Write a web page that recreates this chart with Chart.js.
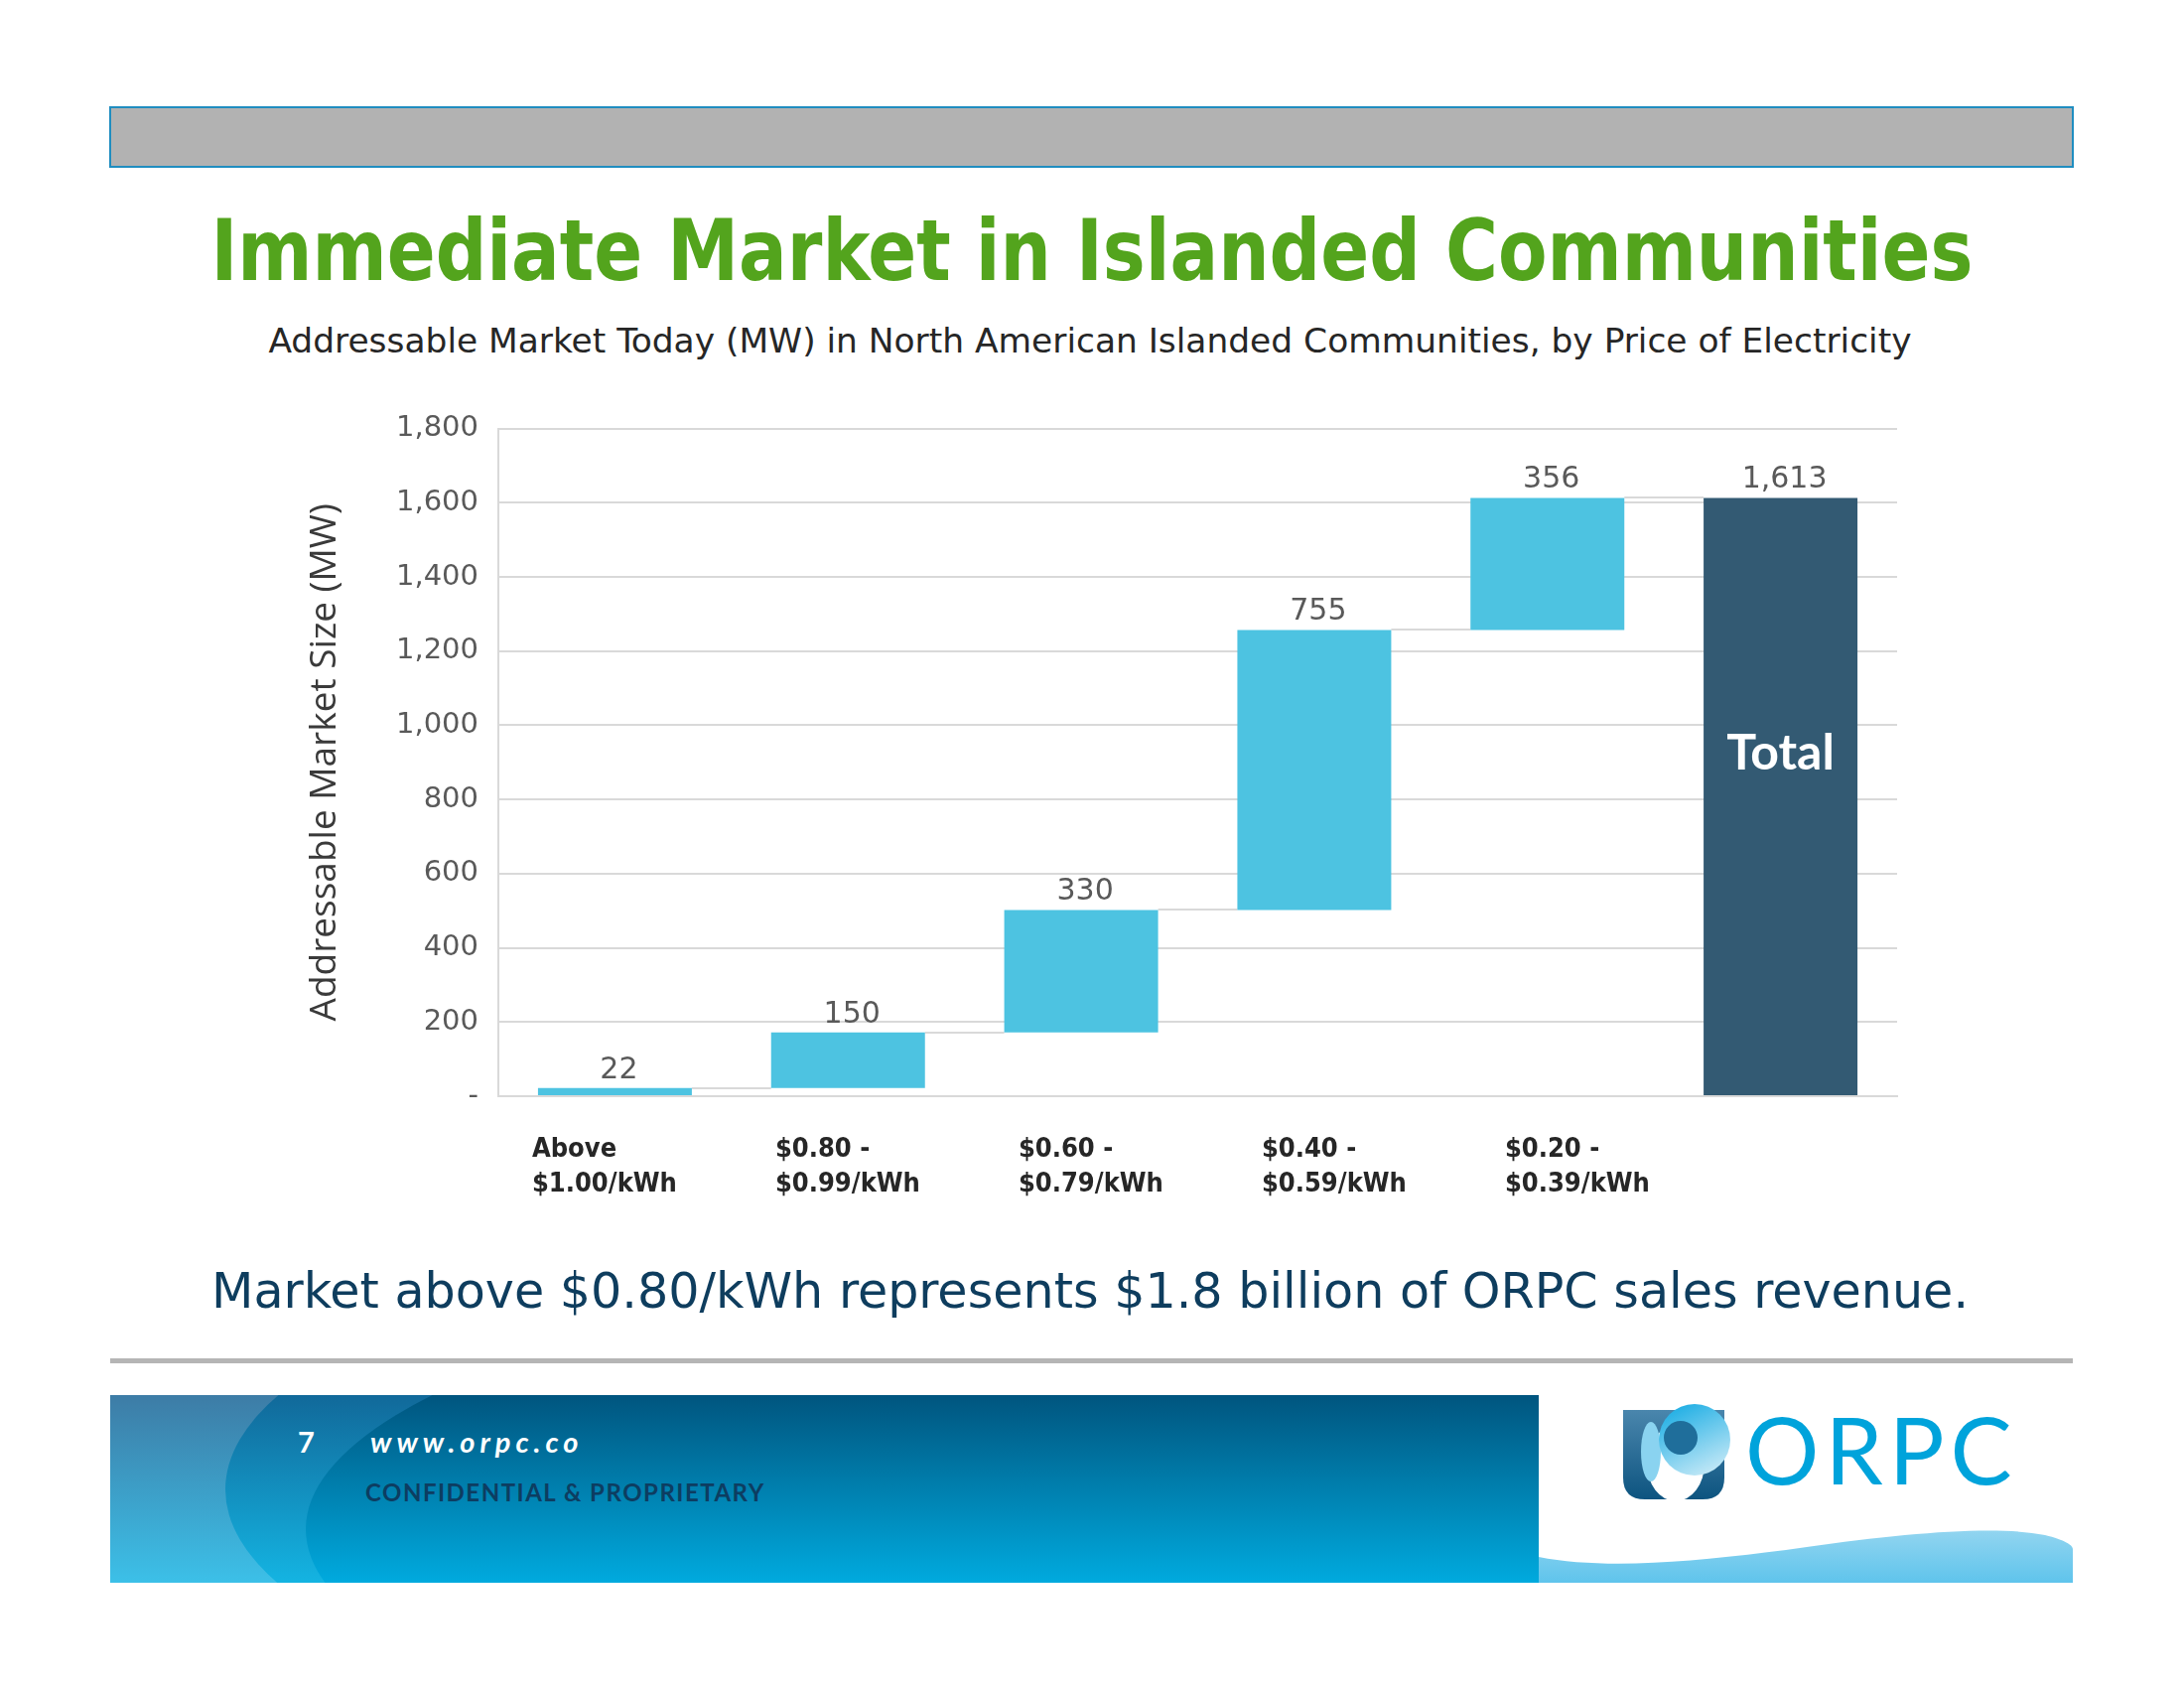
<!DOCTYPE html>
<html>
<head>
<meta charset="utf-8">
<title>Immediate Market in Islanded Communities</title>
<script src="https://cdn.jsdelivr.net/npm/chart.js@4.4.0/dist/chart.umd.min.js"></script>
<style>
  html, body { margin: 0; padding: 0; background: #fff; }
  #page { position: relative; width: 2200px; height: 1700px; overflow: hidden; background: #fff; }
  #deco { position: absolute; left: 0; top: 0; }
  #chartBox { position: absolute; left: 240px; top: 400px; width: 1692px; height: 830px; }
</style>
</head>
<body>
<div id="page">
  <svg id="deco" width="2200" height="1700" xmlns="http://www.w3.org/2000/svg">
    <defs>
      <linearGradient id="bandMain" x1="0" y1="1405" x2="0" y2="1594" gradientUnits="userSpaceOnUse">
        <stop offset="0" stop-color="#00557f"/>
        <stop offset="1" stop-color="#00aade"/>
      </linearGradient>
      <linearGradient id="bandMid" x1="0" y1="1405" x2="0" y2="1594" gradientUnits="userSpaceOnUse">
        <stop offset="0" stop-color="#11699a"/>
        <stop offset="1" stop-color="#14b4e2"/>
      </linearGradient>
      <linearGradient id="bandLight" x1="0" y1="1405" x2="0" y2="1594" gradientUnits="userSpaceOnUse">
        <stop offset="0" stop-color="#3d7ca6"/>
        <stop offset="1" stop-color="#3cc0e8"/>
      </linearGradient>
      <linearGradient id="wave" x1="0" y1="1540" x2="0" y2="1594" gradientUnits="userSpaceOnUse">
        <stop offset="0" stop-color="#93d5f0"/>
        <stop offset="1" stop-color="#5fc4ec"/>
      </linearGradient>
      <linearGradient id="logoDark" x1="0" y1="1420" x2="0" y2="1510" gradientUnits="userSpaceOnUse">
        <stop offset="0" stop-color="#4a86ad"/>
        <stop offset="1" stop-color="#0d5480"/>
      </linearGradient>
      <linearGradient id="logoLight" x1="1690" y1="1414" x2="1725" y2="1486" gradientUnits="userSpaceOnUse">
        <stop offset="0" stop-color="#1eaee4"/>
        <stop offset="1" stop-color="#c8eaf7"/>
      </linearGradient>
      <clipPath id="bandClip"><rect x="111" y="1405" width="1439" height="189"/></clipPath>
    </defs>

    <!-- header bar -->
    <rect x="111" y="108" width="1977" height="60" fill="#b2b2b2" stroke="#1f8dc0" stroke-width="2"/>

    <!-- headings -->
    <text x="1100" y="282" text-anchor="middle" font-family="DejaVu Sans Condensed" font-weight="bold"
          font-size="86" fill="#53a41d" textLength="1775" lengthAdjust="spacingAndGlyphs">Immediate Market in Islanded Communities</text>
    <text x="1098" y="355" text-anchor="middle" font-family="DejaVu Sans Condensed"
          font-size="34" fill="#262626" textLength="1655" lengthAdjust="spacingAndGlyphs">Addressable Market Today (MW) in North American Islanded Communities, by Price of Electricity</text>

    <!-- takeaway -->
    <text x="1098" y="1317" text-anchor="middle" font-family="DejaVu Sans Condensed"
          font-size="50" fill="#0e3d5e" textLength="1770" lengthAdjust="spacingAndGlyphs">Market above $0.80/kWh represents $1.8 billion of ORPC sales revenue.</text>
    <rect x="111" y="1368" width="1977" height="5" fill="#b5b5b5"/>

    <!-- footer band -->
    <g clip-path="url(#bandClip)">
      <rect x="111" y="1405" width="1439" height="189" fill="url(#bandLight)"/>
      <ellipse cx="1000" cy="1500" rx="773" ry="260" fill="url(#bandMid)"/>
      <ellipse cx="1500" cy="1540" rx="1192" ry="300" fill="url(#bandMain)"/>
    </g>
    <text x="300" y="1463" font-family="Lato" font-weight="bold" font-size="29" fill="#ffffff">7</text>
    <text x="373" y="1463" font-family="Lato" font-weight="bold" font-style="italic" font-size="29"
          fill="#ffffff" letter-spacing="5">www.orpc.co</text>
    <text x="368" y="1512" font-family="Lato" font-weight="bold" font-size="24" fill="#0d3d61"
          letter-spacing="1.5">CONFIDENTIAL &amp; PROPRIETARY</text>

    <!-- wave -->
    <path d="M1550,1594 L1550,1568 C1620,1582 1720,1572 1820,1558 C1920,1544 2010,1536 2060,1546 C2080,1551 2088,1556 2088,1560 L2088,1594 Z" fill="url(#wave)"/>

    <!-- logo -->
    <path d="M1635,1420 L1737,1420 L1737,1488 Q1737,1510 1715,1510 L1657,1510 Q1635,1510 1635,1488 Z" fill="url(#logoDark)"/>
    <ellipse cx="1688" cy="1474" rx="29" ry="38" fill="#ffffff"/>
    <ellipse cx="1663" cy="1462" rx="10" ry="30" fill="#8ad3f0"/>
    <circle cx="1707" cy="1450" r="36" fill="url(#logoLight)"/>
    <circle cx="1693" cy="1448" r="17" fill="#1f6e9b"/>
    <text x="1758" y="1495" font-family="Lato" font-size="93" fill="#00a3db" letter-spacing="6">ORPC</text>
  </svg>

  <div id="chartBox"><canvas id="waterfall"></canvas></div>
</div>

<script>
// categories (price bands), one array of lines per bar
const categories = [
    ['Above', '$1.00/kWh'],
    ['$0.80 -', '$0.99/kWh'],
    ['$0.60 -', '$0.79/kWh'],
    ['$0.40 -', '$0.59/kWh'],
    ['$0.20 -', '$0.39/kWh'],
    ['']
];
// MW added by each price band
const increments = [22, 150, 330, 755, 356];
const totalValue = 1613;
const totalText = 'Total';
// y axis ticks
const yTicks = [0, 200, 400, 600, 800, 1000, 1200, 1400, 1600, 1800];

const stepColor = '#4dc3e1';
const totalColor = '#335a73';
const gridColor = '#d9d9d9';

// floating ranges for the waterfall
const ranges = [];
let running = 0;
increments.forEach(v => {
    ranges.push([running, running + v]);
    running += v;
});
ranges.push([0, totalValue]);
const labelValues = increments.concat([totalValue]);
const barColors = increments.map(() => stepColor).concat([totalColor]);

const fmt = v => v.toLocaleString('en-US');

const waterfallExtras = {
    id: 'waterfallExtras',
    beforeDatasetsDraw(chart) {
        const ctx = chart.ctx;
        const y = chart.scales.y;
        const bars = chart.getDatasetMeta(0).data;
        ctx.save();
        ctx.strokeStyle = gridColor;
        ctx.lineWidth = 2;
        for (let i = 0; i < bars.length - 1; i++) {
            const level = ranges[i][1];
            const py = Math.round(y.getPixelForValue(level));
            ctx.beginPath();
            ctx.moveTo(bars[i].x + bars[i].width / 2, py);
            ctx.lineTo(bars[i + 1].x - bars[i + 1].width / 2, py);
            ctx.stroke();
        }
        ctx.restore();
    },
    afterDatasetsDraw(chart) {
        const ctx = chart.ctx;
        const y = chart.scales.y;
        const area = chart.chartArea;
        const bars = chart.getDatasetMeta(0).data;
        ctx.save();

        // value labels above each bar
        ctx.font = '30px "DejaVu Sans"';
        ctx.fillStyle = '#595959';
        ctx.textAlign = 'center';
        ctx.textBaseline = 'alphabetic';
        bars.forEach((bar, i) => {
            const top = Math.min(bar.y, bar.base);
            ctx.fillText(fmt(labelValues[i]), bar.x + 4, top - 10);
        });

        // "Total" inside the last bar
        const last = bars[bars.length - 1];
        ctx.font = 'bold 50px Lato';
        ctx.fillStyle = '#ffffff';
        ctx.fillText(totalText, last.x, y.getPixelForValue(880));

        // category labels: text boxes spaced a little wider than the bars
        ctx.font = 'bold 27px "DejaVu Sans Condensed"';
        ctx.fillStyle = '#262626';
        ctx.textAlign = 'left';
        const first = bars[0];
        categories.forEach((lines, i) => {
            const lx = first.x - first.width / 2 - 6 + i * 245;
            lines.forEach((line, k) => {
                ctx.fillText(line, lx, area.bottom + 61 + k * 35);
            });
        });
        ctx.restore();
    }
};

Chart.defaults.font.family = '"DejaVu Sans"';

new Chart(document.getElementById('waterfall'), {
    type: 'bar',
    data: {
        labels: categories.map(c => c.join(' ')),
        datasets: [{
            data: ranges,
            backgroundColor: barColors,
            borderWidth: 0,
            categoryPercentage: 1,
            barPercentage: 0.66
        }]
    },
    options: {
        responsive: true,
        maintainAspectRatio: false,
        animation: false,
        layout: { padding: { top: 31, right: 21, bottom: 0, left: 0 } },
        plugins: { legend: { display: false }, tooltip: { enabled: false } },
        scales: {
            x: {
                grid: { display: false },
                border: { display: true, color: gridColor, width: 2 },
                ticks: { display: false },
                afterFit: scale => { scale.height = 126; }
            },
            y: {
                min: yTicks[0],
                max: yTicks[yTicks.length - 1],
                afterBuildTicks: scale => { scale.ticks = yTicks.map(v => ({ value: v })); },
                grid: { color: gridColor, lineWidth: 2, drawTicks: false },
                border: { display: true, color: gridColor, width: 2 },
                ticks: {
                    padding: 20,
                    color: '#595959',
                    font: { size: 29, lineHeight: 0.8 },
                    callback: v => (v === 0 ? '-' : fmt(v))
                },
                title: {
                    display: true,
                    text: 'Addressable Market Size (MW)',
                    color: '#3a3a3a',
                    font: { size: 37, family: '"Open Sans"' },
                    padding: { top: 65, bottom: 0 }
                },
                afterFit: scale => { scale.width = 262; }
            }
        }
    },
    plugins: [waterfallExtras]
});
</script>
</body>
</html>
